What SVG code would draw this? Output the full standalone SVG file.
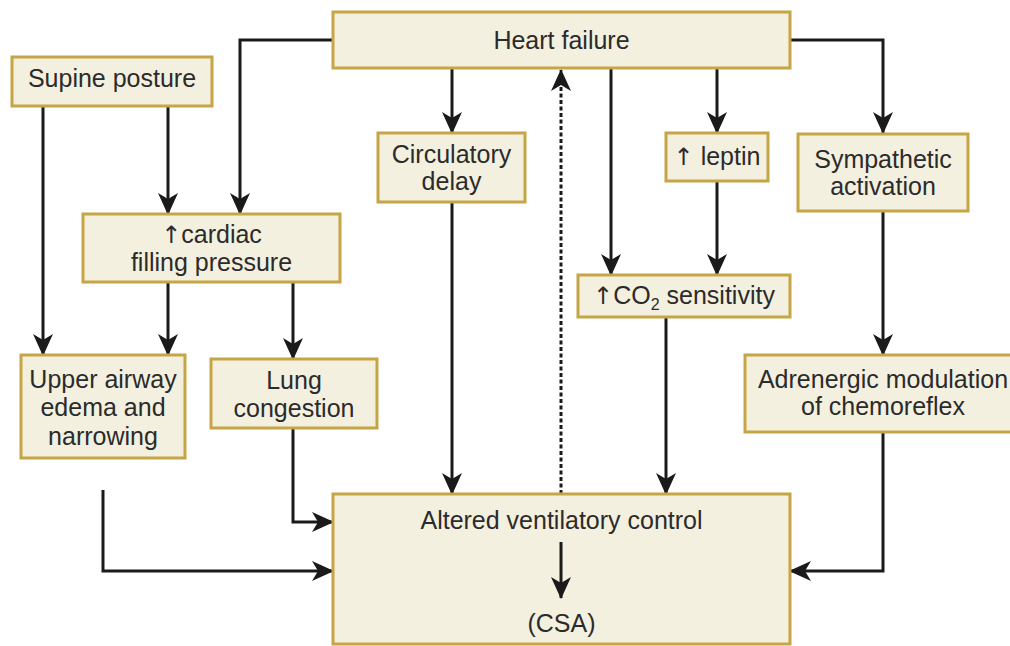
<svg xmlns="http://www.w3.org/2000/svg" width="1010" height="646" viewBox="0 0 1010 646">
  <defs>
    <style>
      .box { fill: #f4f0df; stroke: #c6a546; stroke-width: 3; }
      .lbl { font-family: "Liberation Sans", Arial, sans-serif; font-size: 25px; fill: #2b2b2b; text-anchor: middle; }
      .up { font-family: "DejaVu Sans", sans-serif; font-size: 24px; }
      .wire { fill: none; stroke: #1a1a1a; stroke-width: 3; }
      .dash { fill: none; stroke: #1a1a1a; stroke-width: 3; stroke-dasharray: 4 2.5; }
    </style>
    <marker id="head" viewBox="0 0 22 20" refX="21" refY="10" markerWidth="22" markerHeight="20" orient="auto" markerUnits="userSpaceOnUse">
      <path d="M0,0 L22,10 L0,20 L6,10 z" fill="#1a1a1a"/>
    </marker>
  </defs>
  <rect width="1010" height="646" fill="#ffffff"/>

  <!-- connectors -->
  <g id="connectors">
    <path class="wire" d="M333,40 H240 V214" marker-end="url(#head)"/>
    <path class="wire" d="M790,40 H883 V133" marker-end="url(#head)"/>
    <path class="wire" d="M452,68 V133" marker-end="url(#head)"/>
    <path class="wire" d="M717,68 V133" marker-end="url(#head)"/>
    <path class="wire" d="M611,68 V275" marker-end="url(#head)"/>
    <path class="wire" d="M717,181 V275" marker-end="url(#head)"/>
    <path class="wire" d="M43,106 V355" marker-end="url(#head)"/>
    <path class="wire" d="M168,106 V214" marker-end="url(#head)"/>
    <path class="wire" d="M168,282 V355" marker-end="url(#head)"/>
    <path class="wire" d="M293,282 V359" marker-end="url(#head)"/>
    <path class="wire" d="M883,211 V355" marker-end="url(#head)"/>
    <path class="wire" d="M452,202 V494" marker-end="url(#head)"/>
    <path class="wire" d="M666,317 V494" marker-end="url(#head)"/>
    <path class="wire" d="M293,428 V522 H333" marker-end="url(#head)"/>
    <path class="wire" d="M103,490 V571 H333" marker-end="url(#head)"/>
    <path class="wire" d="M883,432 V571 H790" marker-end="url(#head)"/>
    <path class="dash" d="M561,494 V70" marker-end="url(#head)"/>
  </g>

  <g id="heart-failure">
    <rect class="box" x="333" y="12" width="457" height="56"/>
    <text class="lbl" x="561.5" y="49">Heart failure</text>
  </g>

  <g id="supine-posture">
    <rect class="box" x="12" y="57" width="200" height="49"/>
    <text class="lbl" x="112" y="87">Supine posture</text>
  </g>

  <g id="circulatory-delay">
    <rect class="box" x="378" y="133" width="147" height="69"/>
    <text class="lbl" x="451.5" y="163">Circulatory</text>
    <text class="lbl" x="451.5" y="190">delay</text>
  </g>

  <g id="leptin">
    <rect class="box" x="666" y="133" width="102" height="48"/>
    <text class="lbl" x="717" y="165"><tspan class="up">↑</tspan> leptin</text>
  </g>

  <g id="sympathetic-activation">
    <rect class="box" x="798" y="134" width="170" height="77"/>
    <text class="lbl" x="883" y="168">Sympathetic</text>
    <text class="lbl" x="883" y="195">activation</text>
  </g>

  <g id="cardiac-filling-pressure">
    <rect class="box" x="83" y="214" width="257" height="68"/>
    <text class="lbl" x="211.5" y="243"><tspan class="up">↑</tspan>cardiac</text>
    <text class="lbl" x="211.5" y="271">filling pressure</text>
  </g>

  <g id="co2-sensitivity">
    <rect class="box" x="578" y="275" width="212" height="42"/>
    <text class="lbl" x="684" y="304"><tspan class="up">↑</tspan>CO<tspan font-size="16" dy="6">2</tspan><tspan dy="-6"> sensitivity</tspan></text>
  </g>

  <g id="upper-airway">
    <rect class="box" x="21" y="355" width="164" height="103"/>
    <text class="lbl" x="103" y="388">Upper airway</text>
    <text class="lbl" x="103" y="416">edema and</text>
    <text class="lbl" x="103" y="445">narrowing</text>
  </g>

  <g id="lung-congestion">
    <rect class="box" x="211" y="359" width="166" height="69"/>
    <text class="lbl" x="294" y="389">Lung</text>
    <text class="lbl" x="294" y="417">congestion</text>
  </g>

  <g id="adrenergic-modulation">
    <rect class="box" x="745" y="355" width="276" height="77"/>
    <text class="lbl" x="883" y="388">Adrenergic modulation</text>
    <text class="lbl" x="883" y="415">of chemoreflex</text>
  </g>

  <g id="altered-ventilatory-control">
    <rect class="box" x="333" y="494" width="457" height="150"/>
    <text class="lbl" x="561.5" y="529">Altered ventilatory control</text>
    <path class="wire" d="M561,542 V598" marker-end="url(#head)"/>
    <text class="lbl" x="561.5" y="632">(CSA)</text>
  </g>
</svg>
